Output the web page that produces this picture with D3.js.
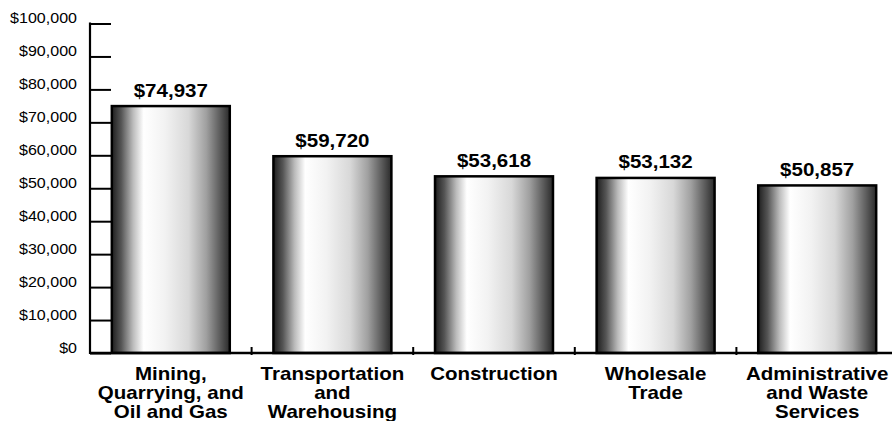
<!DOCTYPE html>
<html>
<head>
<meta charset="utf-8">
<script src="https://cdn.jsdelivr.net/npm/d3@7"></script>
<style>
  body { margin: 0; background: #fff; }
  svg { display: block; }
  .ylab { font: 15px "Liberation Sans", Arial, sans-serif; fill: #000; }
  .val { font: bold 18px "Liberation Sans", Arial, sans-serif; fill: #000; }
  .cat { font: bold 18px "Liberation Sans", Arial, sans-serif; fill: #000; }
</style>
</head>
<body>
<script>
var categories = [
    ['Mining,', 'Quarrying, and', 'Oil and Gas'],
    ['Transportation', 'and', 'Warehousing'],
    ['Construction'],
    ['Wholesale', 'Trade'],
    ['Administrative', 'and Waste', 'Services']
];
var values = [74937, 59720, 53618, 53132, 50857];
var yTicks = [0, 10000, 20000, 30000, 40000, 50000, 60000, 70000, 80000, 90000, 100000];

var svgWidth = 892, svgHeight = 421;
var plotLeft = 90, plotBottom = 353, plotTop = 23.5, plotRight = 898;
var wide = 1.14, wideY = 1.07; // reference glyphs are a bit stretched

var fmt = d3.format('$,');

var svg = d3.select('body')
    .append('svg')
    .attr('width', svgWidth)
    .attr('height', svgHeight);

// cylinder-like shading
var grad = svg.append('defs').append('linearGradient')
    .attr('id', 'barShade')
    .attr('x1', '0%').attr('x2', '100%')
    .attr('y1', '0%').attr('y2', '0%');
[[0, '#1e1e1e'], [0.08, '#555'], [0.18, '#bbb'], [0.27, '#fff'], [0.45, '#f2f2f2'],
 [0.65, '#d8d8d8'], [0.8, '#a0a0a0'], [0.92, '#5a5a5a'], [1, '#2a2a2a']].forEach(function(s) {
    grad.append('stop').attr('offset', s[0]).attr('stop-color', s[1]);
});

var xScale = d3.scaleBand()
    .domain(d3.range(values.length))
    .range([plotLeft, plotRight])
    .paddingInner(0.27)
    .paddingOuter(0.135);

var yScale = d3.scaleLinear()
    .domain([0, 100000])
    .range([plotBottom, plotTop]);

// y axis: ticks drawn inward
var yAxis = d3.axisRight(yScale)
    .tickValues(yTicks)
    .tickSize(21)
    .tickFormat('');

svg.append('g')
    .attr('transform', 'translate(' + plotLeft + ',0)')
    .call(yAxis)
    .call(function(g) {
        g.select('.domain').remove();
        g.selectAll('line').attr('stroke', '#000').attr('stroke-width', 2);
    });

svg.append('g')
    .attr('transform', 'scale(' + wideY + ',1)')
    .selectAll('.ylab')
    .data(yTicks)
    .enter()
    .append('text')
    .attr('class', 'ylab')
    .attr('x', 77 / wideY)
    .attr('y', function(d) { return yScale(d); })
    .attr('text-anchor', 'end')
    .text(function(d) { return fmt(d); });

svg.append('line')
    .attr('x1', plotLeft).attr('x2', plotLeft)
    .attr('y1', plotTop - 1).attr('y2', plotBottom + 1)
    .attr('stroke', '#000').attr('stroke-width', 2.2);

// bars
svg.selectAll('.bar')
    .data(values)
    .enter()
    .append('rect')
    .attr('class', 'bar')
    .attr('x', function(d, i) { return xScale(i); })
    .attr('y', function(d) { return yScale(d); })
    .attr('width', xScale.bandwidth())
    .attr('height', function(d) { return plotBottom - yScale(d); })
    .attr('fill', 'url(#barShade)')
    .attr('stroke', '#000')
    .attr('stroke-width', 2.5);

svg.append('g')
    .attr('transform', 'scale(' + wide + ',1)')
    .selectAll('.val')
    .data(values)
    .enter()
    .append('text')
    .attr('class', 'val')
    .attr('x', function(d, i) { return (xScale(i) + xScale.bandwidth() / 2) / wide; })
    .attr('y', function(d) { return yScale(d) - 9.5; })
    .attr('text-anchor', 'middle')
    .text(function(d) { return fmt(d); });

// x axis
svg.append('line')
    .attr('x1', plotLeft).attr('x2', svgWidth)
    .attr('y1', plotBottom).attr('y2', plotBottom)
    .attr('stroke', '#000').attr('stroke-width', 2.4);

var gap = (xScale.step() - xScale.bandwidth()) / 2;
svg.selectAll('.xtick')
    .data(d3.range(1, values.length))
    .enter()
    .append('line')
    .attr('class', 'xtick')
    .attr('x1', function(i) { return xScale(i) - gap; })
    .attr('x2', function(i) { return xScale(i) - gap; })
    .attr('y1', plotBottom - 6).attr('y2', plotBottom + 2)
    .attr('stroke', '#000').attr('stroke-width', 2);

var cats = svg.append('g')
    .attr('transform', 'scale(' + wide + ',1)')
    .selectAll('.cat')
    .data(categories)
    .enter()
    .append('text')
    .attr('class', 'cat')
    .attr('text-anchor', 'middle');

cats.selectAll('tspan')
    .data(function(d, i) { return d.map(function(t) { return { t: t, i: i }; }); })
    .enter()
    .append('tspan')
    .attr('x', function(d) { return (xScale(d.i) + xScale.bandwidth() / 2) / wide; })
    .attr('y', function(d, j) { return 380.5 + j * 19; })
    .text(function(d) { return d.t; });
</script>
</body>
</html>
